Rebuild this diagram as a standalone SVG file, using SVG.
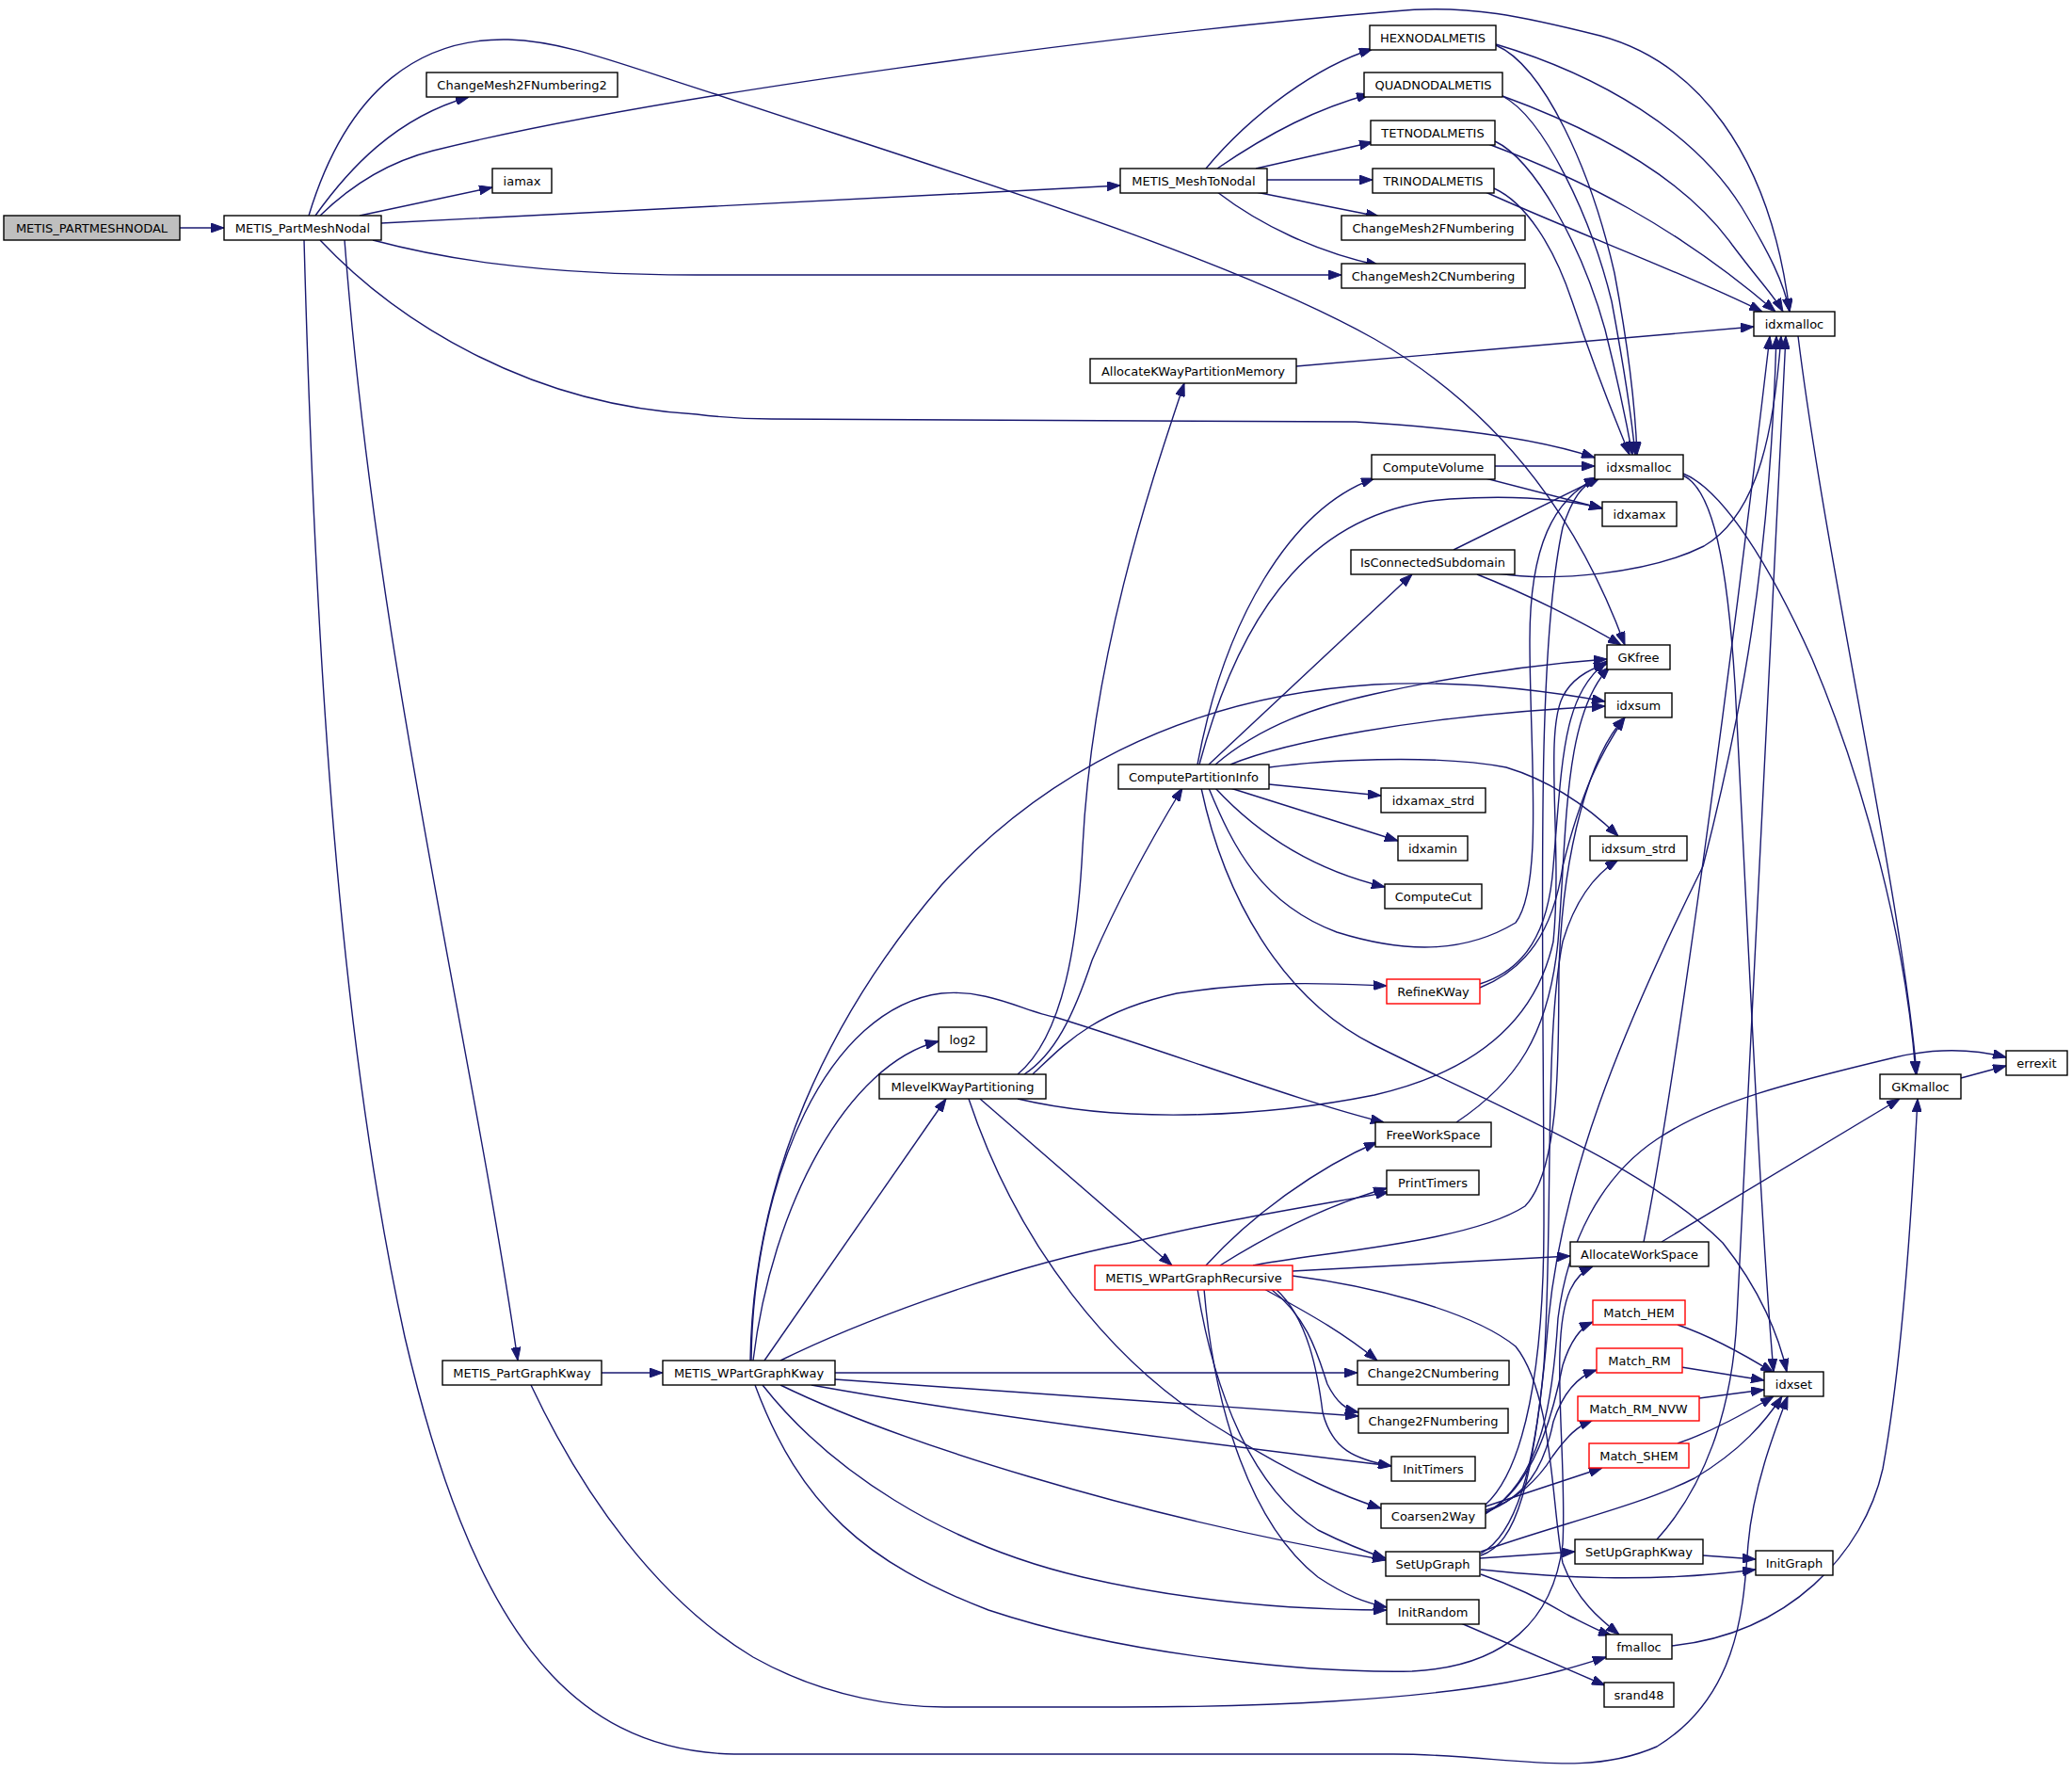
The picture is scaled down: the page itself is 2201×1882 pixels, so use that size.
<svg xmlns="http://www.w3.org/2000/svg" width="2201" height="1882" viewBox="0 0 2201 1882">
<defs>
<marker id="a" viewBox="0 0 14 10" refX="14" refY="5" markerWidth="14" markerHeight="10" markerUnits="userSpaceOnUse" orient="auto"><path d="M0,0 L14,5 L0,10 z" fill="#191970" stroke="#191970" stroke-width="1"/></marker>
<style>
.e path{fill:none;stroke:#191970;stroke-width:1.4;marker-end:url(#a)}
.n rect{fill:#fff;stroke:#000;stroke-width:1.4}
.n.r rect{stroke:#ff0000}
.n.g rect{fill:#bfbfbf}
.n text{font-family:"DejaVu Sans","Liberation Sans",sans-serif;font-size:13px;fill:#000;text-anchor:middle}
</style>
</defs>
<rect width="2201" height="1882" fill="#fff"/>
<g class="e" id="edges">
<path d="M191,242 L238,242"/>
<path d="M335,229 C370,180 420,125 498,103"/>
<path d="M382,229 L523,199"/>
<path d="M405,237 C600,228 900,212 1190,197"/>
<path d="M396,255 C460,272 560,292 740,292 L1425,292"/>
<path d="M340,229 C380,190 420,170 460,160 C700,100 1200,35 1480,12 C1560,4 1620,18 1700,38 C1800,65 1880,160 1901,331"/>
<path d="M328,229 C370,90 450,40 540,42 C600,44 650,65 760,100 C1000,180 1300,270 1460,360 C1600,440 1680,560 1726,685"/>
<path d="M340,255 C420,340 560,430 740,440 C780,445 800,445 820,445 L1440,448 C1560,455 1640,468 1694,486"/>
<path d="M366,255 C400,700 500,1100 550,1445"/>
<path d="M323,255 C335,700 360,1100 430,1420 C500,1720 600,1860 780,1863 L1480,1863 C1600,1863 1680,1890 1760,1855 C1850,1800 1852,1700 1857,1640 C1862,1580 1885,1520 1899,1483"/>
<path d="M1281,179 C1330,120 1400,70 1458,52"/>
<path d="M1293,179 C1350,140 1400,115 1455,100"/>
<path d="M1334,179 L1458,151"/>
<path d="M1346,191 L1458,191"/>
<path d="M1334,204 L1465,230"/>
<path d="M1293,204 C1340,240 1400,268 1465,282"/>
<path d="M1589,47 C1700,80 1800,140 1850,220 C1880,270 1895,300 1901,331"/>
<path d="M1596,102 C1700,140 1790,190 1840,260 C1870,300 1885,315 1894,331"/>
<path d="M1581,153 C1680,190 1780,240 1886,331"/>
<path d="M1578,204 C1680,250 1790,290 1872,331"/>
<path d="M1589,48 C1640,70 1690,180 1715,290 C1730,370 1737,430 1739,483"/>
<path d="M1596,102 C1640,125 1690,230 1712,320 C1725,390 1733,440 1737,483"/>
<path d="M1588,150 C1630,170 1680,260 1705,350 C1720,410 1728,450 1734,483"/>
<path d="M1587,200 C1620,215 1650,260 1670,320 C1700,410 1718,450 1731,483"/>
<path d="M1377,389 L1863,347"/>
<path d="M1910,357 C1940,600 2020,950 2036,1141"/>
<path d="M1788,503 C1830,520 1880,600 1925,700 C1980,830 2025,1000 2035,1141"/>
<path d="M1788,505 C1820,520 1835,600 1843,727 C1855,950 1870,1300 1884,1457"/>
<path d="M2083,1145 L2131,1132"/>
<path d="M1588,495 L1694,495"/>
<path d="M1578,508 L1702,540"/>
<path d="M1544,584 L1700,507"/>
<path d="M1590,609 C1650,618 1750,610 1810,580 C1870,545 1885,450 1892,357"/>
<path d="M1569,610 C1620,630 1680,660 1722,685"/>
<path d="M1272,812 C1300,660 1370,540 1460,508"/>
<path d="M1274,812 C1320,640 1400,540 1540,530 C1620,525 1670,532 1702,540"/>
<path d="M1284,812 L1500,610"/>
<path d="M1291,812 C1340,770 1400,750 1460,737 C1560,715 1640,705 1707,700"/>
<path d="M1307,812 C1360,790 1500,760 1705,750"/>
<path d="M1348,833 L1467,845"/>
<path d="M1307,837 L1485,893"/>
<path d="M1291,837 C1340,890 1400,925 1471,942"/>
<path d="M1348,815 C1400,808 1520,800 1600,815 C1650,830 1690,860 1719,888"/>
<path d="M1276,837 C1300,950 1360,1060 1460,1110 C1600,1180 1750,1240 1830,1320 C1870,1370 1890,1420 1898,1457"/>
<path d="M1284,837 C1310,900 1340,960 1420,990 C1500,1015 1560,1010 1610,980 C1640,940 1625,800 1625,680 C1625,580 1650,530 1697,507"/>
<path d="M639,1458 L704,1458"/>
<path d="M564,1471 C620,1590 700,1700 800,1760 C880,1805 960,1813 1003,1813 L1192,1813 C1350,1813 1500,1805 1600,1787 C1650,1778 1680,1768 1706,1760"/>
<path d="M887,1458 L1442,1458"/>
<path d="M887,1465 L1443,1504"/>
<path d="M862,1471 C1050,1505 1300,1535 1478,1557"/>
<path d="M829,1471 C950,1530 1200,1610 1472,1657"/>
<path d="M810,1471 C880,1560 1000,1640 1150,1675 C1280,1705 1400,1710 1473,1710"/>
<path d="M802,1471 C850,1600 920,1660 1050,1710 C1200,1760 1400,1777 1500,1775 C1600,1770 1650,1720 1660,1640 C1665,1550 1645,1420 1668,1370 C1675,1355 1685,1348 1692,1345"/>
<path d="M812,1445 L1005,1167"/>
<path d="M800,1445 C820,1280 900,1130 997,1106"/>
<path d="M797,1445 C800,1250 880,1080 1000,940 C1100,830 1250,740 1460,727 C1560,722 1650,735 1705,745"/>
<path d="M798,1445 C800,1250 880,1070 1000,1055 C1050,1050 1090,1075 1120,1080 C1250,1120 1380,1170 1470,1192"/>
<path d="M829,1445 C900,1410 1050,1350 1200,1320 C1300,1295 1400,1280 1475,1266"/>
<path d="M1081,1141 C1130,1100 1145,1000 1150,900 C1160,700 1220,520 1258,407"/>
<path d="M1088,1141 C1120,1120 1140,1080 1160,1020 C1190,950 1230,880 1256,837"/>
<path d="M1097,1141 C1130,1110 1160,1075 1250,1055 C1350,1040 1420,1045 1473,1047"/>
<path d="M1081,1167 C1200,1195 1350,1185 1460,1163 C1560,1140 1630,1090 1650,1000 C1660,900 1640,780 1660,740 C1670,720 1690,710 1707,705"/>
<path d="M1041,1167 L1245,1344"/>
<path d="M1029,1167 C1080,1320 1180,1450 1300,1520 C1380,1570 1430,1590 1467,1602"/>
<path d="M1281,1344 C1330,1290 1400,1240 1463,1213"/>
<path d="M1296,1344 C1350,1310 1410,1280 1473,1262"/>
<path d="M1331,1344 C1400,1330 1560,1320 1620,1281 C1660,1240 1655,1100 1656,1030 C1660,900 1690,800 1726,762"/>
<path d="M1373,1350 L1668,1334"/>
<path d="M1373,1355 C1450,1365 1560,1390 1610,1430 C1650,1480 1648,1600 1660,1660 C1675,1700 1700,1720 1720,1736"/>
<path d="M1343,1369 C1380,1390 1420,1410 1463,1445"/>
<path d="M1350,1369 C1390,1400 1400,1440 1410,1470 C1420,1490 1430,1497 1443,1500"/>
<path d="M1355,1369 C1390,1400 1400,1460 1405,1500 C1415,1540 1440,1550 1478,1557"/>
<path d="M1272,1369 C1290,1480 1330,1580 1400,1625 C1430,1640 1450,1648 1472,1655"/>
<path d="M1279,1369 C1290,1500 1330,1620 1400,1675 C1430,1695 1450,1702 1473,1707"/>
<path d="M1572,1045 C1620,1030 1645,990 1650,920 C1660,800 1660,740 1707,702"/>
<path d="M1572,1049 C1620,1030 1650,990 1660,920 C1680,840 1700,800 1726,762"/>
<path d="M1547,1192 C1610,1150 1645,1100 1655,1000 C1665,880 1660,760 1710,708"/>
<path d="M1746,1319 C1780,1150 1840,700 1880,357"/>
<path d="M1765,1319 L2018,1167"/>
<path d="M1578,1600 L1702,1559"/>
<path d="M1578,1604 C1610,1595 1635,1570 1649,1547 C1665,1525 1675,1515 1692,1508"/>
<path d="M1578,1606 C1620,1590 1640,1560 1650,1510 C1660,1480 1675,1462 1696,1455"/>
<path d="M1578,1607 C1630,1580 1650,1500 1660,1450 C1668,1425 1678,1410 1692,1404"/>
<path d="M1578,1608 C1640,1570 1650,1480 1655,1400 C1665,1320 1700,1250 1760,1210 C1820,1170 1900,1150 2013,1123 C2060,1112 2100,1115 2131,1123"/>
<path d="M1578,1598 C1620,1560 1640,1450 1640,1300 C1640,1000 1630,700 1660,560 C1670,530 1680,515 1697,508"/>
<path d="M1573,1652 C1610,1640 1630,1580 1645,1400 C1660,1250 1720,1100 1809,920 C1850,760 1880,600 1887,357"/>
<path d="M1573,1650 C1610,1630 1630,1560 1640,1450 C1650,1300 1640,1100 1660,1000 C1675,950 1700,925 1719,913"/>
<path d="M1572,1655 L1673,1648"/>
<path d="M1573,1667 C1650,1675 1750,1682 1865,1667"/>
<path d="M1573,1672 C1610,1685 1640,1700 1665,1715 C1685,1725 1700,1733 1712,1737"/>
<path d="M1573,1648 C1650,1620 1740,1600 1800,1570 C1850,1540 1875,1510 1893,1483"/>
<path d="M1809,1652 L1865,1656"/>
<path d="M1760,1635 C1810,1580 1840,1500 1845,1400 C1860,1100 1880,700 1897,357"/>
<path d="M1552,1724 L1705,1790"/>
<path d="M1782,1407 C1820,1420 1855,1440 1884,1458"/>
<path d="M1786,1452 L1874,1466"/>
<path d="M1805,1485 L1874,1476"/>
<path d="M1782,1533 C1820,1520 1855,1500 1884,1483"/>
<path d="M1776,1748 C1900,1735 1980,1650 2000,1560 C2020,1450 2030,1300 2037,1167"/>
</g>
<g class="n g" id="n_METIS_PARTMESHNODAL"><rect x="4" y="229" width="187" height="26"/><text x="97.5" y="246.7">METIS_PARTMESHNODAL</text></g>
<g class="n" id="n_METIS_PartMeshNodal"><rect x="238" y="229" width="167" height="26"/><text x="321.5" y="246.7">METIS_PartMeshNodal</text></g>
<g class="n" id="n_ChangeMesh2FNumbering2"><rect x="453" y="77" width="203" height="26"/><text x="554.5" y="94.7">ChangeMesh2FNumbering2</text></g>
<g class="n" id="n_iamax"><rect x="523" y="179" width="63" height="26"/><text x="554.5" y="196.7">iamax</text></g>
<g class="n" id="n_METIS_MeshToNodal"><rect x="1190" y="179" width="156" height="26"/><text x="1268" y="196.7">METIS_MeshToNodal</text></g>
<g class="n" id="n_AllocateKWayPartitionMemory"><rect x="1158" y="381" width="219" height="26"/><text x="1267.5" y="398.7">AllocateKWayPartitionMemory</text></g>
<g class="n" id="n_ComputePartitionInfo"><rect x="1188" y="812" width="160" height="26"/><text x="1268" y="829.7">ComputePartitionInfo</text></g>
<g class="n" id="n_log2"><rect x="997" y="1091" width="51" height="26"/><text x="1022.5" y="1108.7">log2</text></g>
<g class="n" id="n_MlevelKWayPartitioning"><rect x="934" y="1141" width="177" height="26"/><text x="1022.5" y="1158.7">MlevelKWayPartitioning</text></g>
<g class="n r" id="n_METIS_WPartGraphRecursive"><rect x="1163" y="1344" width="210" height="26"/><text x="1268" y="1361.7">METIS_WPartGraphRecursive</text></g>
<g class="n" id="n_METIS_PartGraphKway"><rect x="470" y="1445" width="169" height="26"/><text x="554.5" y="1462.7">METIS_PartGraphKway</text></g>
<g class="n" id="n_METIS_WPartGraphKway"><rect x="704" y="1445" width="183" height="26"/><text x="795.5" y="1462.7">METIS_WPartGraphKway</text></g>
<g class="n" id="n_HEXNODALMETIS"><rect x="1455" y="27" width="134" height="26"/><text x="1522" y="44.7">HEXNODALMETIS</text></g>
<g class="n" id="n_QUADNODALMETIS"><rect x="1449" y="77" width="147" height="26"/><text x="1522.5" y="94.7">QUADNODALMETIS</text></g>
<g class="n" id="n_TETNODALMETIS"><rect x="1456" y="128" width="132" height="26"/><text x="1522" y="145.7">TETNODALMETIS</text></g>
<g class="n" id="n_TRINODALMETIS"><rect x="1458" y="179" width="129" height="26"/><text x="1522.5" y="196.7">TRINODALMETIS</text></g>
<g class="n" id="n_ChangeMesh2FNumbering"><rect x="1425" y="229" width="195" height="26"/><text x="1522.5" y="246.7">ChangeMesh2FNumbering</text></g>
<g class="n" id="n_ChangeMesh2CNumbering"><rect x="1425" y="280" width="195" height="26"/><text x="1522.5" y="297.7">ChangeMesh2CNumbering</text></g>
<g class="n" id="n_ComputeVolume"><rect x="1457" y="483" width="131" height="26"/><text x="1522.5" y="500.7">ComputeVolume</text></g>
<g class="n" id="n_IsConnectedSubdomain"><rect x="1435" y="584" width="174" height="26"/><text x="1522" y="601.7">IsConnectedSubdomain</text></g>
<g class="n" id="n_idxamax_strd"><rect x="1467" y="837" width="111" height="26"/><text x="1522.5" y="854.7">idxamax_strd</text></g>
<g class="n" id="n_idxamin"><rect x="1485" y="888" width="74" height="26"/><text x="1522" y="905.7">idxamin</text></g>
<g class="n" id="n_ComputeCut"><rect x="1471" y="939" width="103" height="26"/><text x="1522.5" y="956.7">ComputeCut</text></g>
<g class="n r" id="n_RefineKWay"><rect x="1473" y="1040" width="99" height="26"/><text x="1522.5" y="1057.7">RefineKWay</text></g>
<g class="n" id="n_FreeWorkSpace"><rect x="1461" y="1192" width="123" height="26"/><text x="1522.5" y="1209.7">FreeWorkSpace</text></g>
<g class="n" id="n_PrintTimers"><rect x="1473" y="1243" width="98" height="26"/><text x="1522" y="1260.7">PrintTimers</text></g>
<g class="n" id="n_Change2CNumbering"><rect x="1442" y="1445" width="161" height="26"/><text x="1522.5" y="1462.7">Change2CNumbering</text></g>
<g class="n" id="n_Change2FNumbering"><rect x="1443" y="1496" width="159" height="26"/><text x="1522.5" y="1513.7">Change2FNumbering</text></g>
<g class="n" id="n_InitTimers"><rect x="1478" y="1547" width="89" height="26"/><text x="1522.5" y="1564.7">InitTimers</text></g>
<g class="n" id="n_Coarsen2Way"><rect x="1467" y="1597" width="111" height="26"/><text x="1522.5" y="1614.7">Coarsen2Way</text></g>
<g class="n" id="n_SetUpGraph"><rect x="1472" y="1648" width="100" height="26"/><text x="1522" y="1665.7">SetUpGraph</text></g>
<g class="n" id="n_InitRandom"><rect x="1473" y="1699" width="98" height="26"/><text x="1522" y="1716.7">InitRandom</text></g>
<g class="n" id="n_idxsmalloc"><rect x="1694" y="483" width="94" height="26"/><text x="1741" y="500.7">idxsmalloc</text></g>
<g class="n" id="n_idxamax"><rect x="1702" y="533" width="79" height="26"/><text x="1741.5" y="550.7">idxamax</text></g>
<g class="n" id="n_GKfree"><rect x="1707" y="685" width="67" height="26"/><text x="1740.5" y="702.7">GKfree</text></g>
<g class="n" id="n_idxsum"><rect x="1705" y="736" width="71" height="26"/><text x="1740.5" y="753.7">idxsum</text></g>
<g class="n" id="n_idxsum_strd"><rect x="1689" y="888" width="103" height="26"/><text x="1740.5" y="905.7">idxsum_strd</text></g>
<g class="n" id="n_AllocateWorkSpace"><rect x="1668" y="1319" width="147" height="26"/><text x="1741.5" y="1336.7">AllocateWorkSpace</text></g>
<g class="n r" id="n_Match_HEM"><rect x="1692" y="1381" width="98" height="26"/><text x="1741" y="1398.7">Match_HEM</text></g>
<g class="n r" id="n_Match_RM"><rect x="1696" y="1432" width="91" height="26"/><text x="1741.5" y="1449.7">Match_RM</text></g>
<g class="n r" id="n_Match_RM_NVW"><rect x="1676" y="1483" width="129" height="26"/><text x="1740.5" y="1500.7">Match_RM_NVW</text></g>
<g class="n r" id="n_Match_SHEM"><rect x="1688" y="1533" width="106" height="26"/><text x="1741" y="1550.7">Match_SHEM</text></g>
<g class="n" id="n_SetUpGraphKway"><rect x="1673" y="1635" width="136" height="26"/><text x="1741" y="1652.7">SetUpGraphKway</text></g>
<g class="n" id="n_fmalloc"><rect x="1706" y="1736" width="70" height="26"/><text x="1741" y="1753.7">fmalloc</text></g>
<g class="n" id="n_srand48"><rect x="1704" y="1787" width="74" height="26"/><text x="1741" y="1804.7">srand48</text></g>
<g class="n" id="n_idxmalloc"><rect x="1863" y="331" width="86" height="26"/><text x="1906" y="348.7">idxmalloc</text></g>
<g class="n" id="n_idxset"><rect x="1874" y="1457" width="63" height="26"/><text x="1905.5" y="1474.7">idxset</text></g>
<g class="n" id="n_InitGraph"><rect x="1865" y="1647" width="82" height="26"/><text x="1906" y="1664.7">InitGraph</text></g>
<g class="n" id="n_GKmalloc"><rect x="1997" y="1141" width="86" height="26"/><text x="2040" y="1158.7">GKmalloc</text></g>
<g class="n" id="n_errexit"><rect x="2131" y="1116" width="65" height="26"/><text x="2163.5" y="1133.7">errexit</text></g>
</svg>
